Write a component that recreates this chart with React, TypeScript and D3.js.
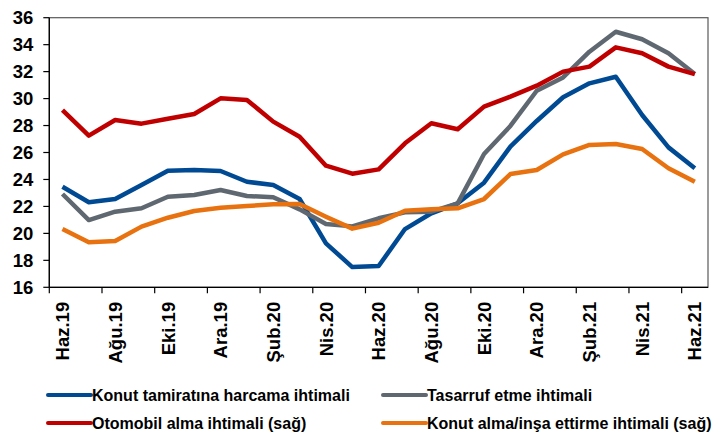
import { useRef, useEffect } from "react"
import * as d3 from "d3"

const months = [
  "Haz.19", "Tem.19", "Ağu.19", "Eyl.19", "Eki.19", "Kas.19", "Ara.19", "Oca.20", "Şub.20",
  "Mar.20", "Nis.20", "May.20", "Haz.20", "Tem.20", "Ağu.20", "Eyl.20", "Eki.20", "Kas.20",
  "Ara.20", "Oca.21", "Şub.21", "Mar.21", "Nis.21", "May.21", "Haz.21",
]

const tamirat = [
  23.46, 22.31, 22.55, 23.59, 24.65, 24.7, 24.63, 23.83, 23.59, 22.55, 19.26, 17.5, 17.58,
  20.32, 21.49, 22.23, 23.76, 26.43, 28.34, 30.1, 31.13, 31.62, 28.78, 26.38, 24.83,
]
const tasarruf = [
  22.92, 20.99, 21.61, 21.86, 22.72, 22.85, 23.22, 22.77, 22.68, 21.78, 20.7, 20.52, 21.12,
  21.56, 21.61, 22.23, 25.89, 27.97, 30.58, 31.57, 33.48, 34.96, 34.4, 33.36, 31.82,
]
const otomobil = [
  29.15, 27.25, 28.41, 28.14, 28.51, 28.86, 30.02, 29.9, 28.29, 27.17, 25.02, 24.43, 24.75,
  26.68, 28.17, 27.72, 29.4, 30.14, 30.96, 32.0, 32.37, 33.8, 33.36, 32.37, 31.82,
]
const konutAlma = [
  20.32, 19.34, 19.43, 20.5, 21.16, 21.66, 21.9, 22.03, 22.16, 22.18, 21.24, 20.35, 20.79,
  21.68, 21.79, 21.86, 22.55, 24.4, 24.7, 25.86, 26.56, 26.63, 26.26, 24.83, 23.83,
]

const yTicks = [16, 18, 20, 22, 24, 26, 28, 30, 32, 34, 36]

const series = [
  { name: "Konut tamiratına harcama ihtimali", values: tamirat, color: "#004A93" },
  { name: "Tasarruf etme ihtimali", values: tasarruf, color: "#5F6870" },
  { name: "Otomobil alma ihtimali (sağ)", values: otomobil, color: "#C00000" },
  { name: "Konut alma/inşa ettirme ihtimali (sağ)", values: konutAlma, color: "#E8720F" },
]

export default function App() {
  const svgRef = useRef<SVGSVGElement>(null)

  useEffect(() => {
    const width = 714
    const height = 436
    const svg = d3.select(svgRef.current)
    svg.selectAll("*").remove()
    svg.attr("width", width).attr("height", height)

    const margin = { top: 17.7, left: 49.3, right: 6, bottom: 148.7 }
    const innerW = width - margin.left - margin.right
    const innerH = height - margin.top - margin.bottom
    const font = "'Liberation Sans', Arial, sans-serif"

    const x = d3.scaleBand().domain(months).range([0, innerW])
    const y = d3.scaleLinear().domain([16, 36]).range([innerH, 0])

    const g = svg.append("g").attr("transform", `translate(${margin.left},${margin.top})`)

    // frame (top and right)
    g.append("rect")
      .attr("width", innerW).attr("height", innerH)
      .attr("fill", "none").attr("stroke", "#595959").attr("stroke-width", 1.2)

    // lines
    const line = d3.line<number>()
      .x((_, i) => (x(months[i]) as number) + x.bandwidth() / 2)
      .y(d => y(d))
    series.forEach(s => {
      g.append("path")
        .datum(s.values)
        .attr("d", line)
        .attr("fill", "none")
        .attr("stroke", s.color)
        .attr("stroke-width", 4.5)
        .attr("stroke-linejoin", "round")
    })

    // y axis
    const yAxis = g.append("g")
    yAxis.append("line").attr("x1", 0).attr("x2", 0).attr("y1", 0).attr("y2", innerH)
      .attr("stroke", "#000").attr("stroke-width", 1.3)
    yTicks.forEach(t => {
      yAxis.append("line").attr("x1", -6).attr("x2", 0).attr("y1", y(t)).attr("y2", y(t))
        .attr("stroke", "#000").attr("stroke-width", 1.2)
      yAxis.append("text")
        .attr("x", -16).attr("y", y(t)).attr("dy", "0.36em")
        .attr("text-anchor", "end")
        .style("font", `bold 18.5px ${font}`)
        .text(t)
    })

    // x axis
    const xAxis = g.append("g").attr("transform", `translate(0,${innerH})`)
    xAxis.append("line").attr("x1", 0).attr("x2", innerW)
      .attr("stroke", "#000").attr("stroke-width", 1.3)
    months.forEach((m, i) => {
      if (i % 2 !== 0) return
      const x0 = x(m) as number
      xAxis.append("line").attr("x1", x0).attr("x2", x0).attr("y1", 0).attr("y2", 6)
        .attr("stroke", "#000").attr("stroke-width", 1.2)
      xAxis.append("text")
        .attr("transform", `translate(${x0 + x.bandwidth() / 2},${14.5}) rotate(-90)`)
        .attr("dy", "0.36em")
        .attr("text-anchor", "end")
        .style("font", `bold 18.5px ${font}`)
        .text(m)
    })

    // legend
    const legendPos = [
      { lx: 48, ly: 395 },
      { lx: 383, ly: 395 },
      { lx: 48, ly: 423 },
      { lx: 383, ly: 423 },
    ]
    series.forEach((s, i) => {
      const p = legendPos[i]
      const lg = svg.append("g").attr("transform", `translate(${p.lx},${p.ly})`)
      lg.append("line").attr("x1", 0).attr("x2", 43)
        .attr("stroke", s.color).attr("stroke-width", 4).attr("stroke-linecap", "round")
      lg.append("text")
        .attr("x", 44).attr("dy", "0.36em")
        .style("font", `bold 16px ${font}`)
        .text(s.name)
    })
  }, [])

  return (
    <div>
      <svg ref={svgRef} style={{ position: "absolute", left: 0, top: 0 }}></svg>
    </div>
  )
}
